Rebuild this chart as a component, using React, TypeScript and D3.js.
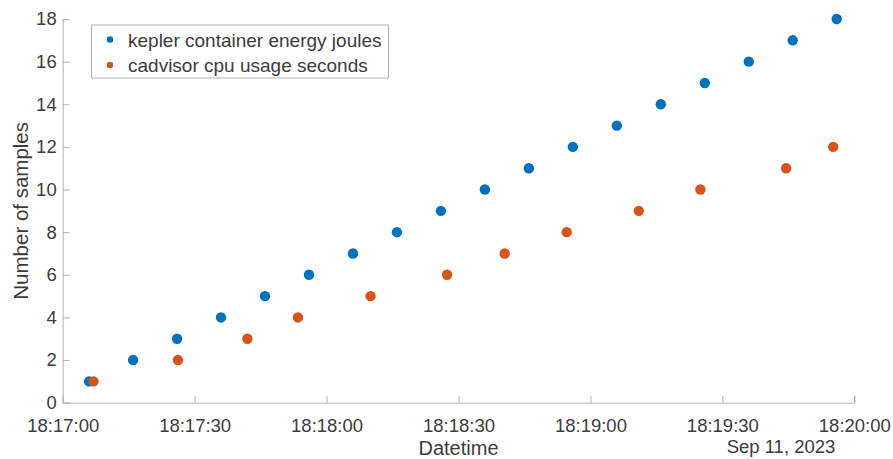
import React, { useEffect, useRef } from 'react';
import * as d3 from 'd3';

const DAY = '2023-09-11';

// kepler container energy joules samples
const keplerTimes = [
  '18:17:06', '18:17:16', '18:17:26', '18:17:36', '18:17:46', '18:17:56',
  '18:18:06', '18:18:16', '18:18:26', '18:18:36', '18:18:46', '18:18:56',
  '18:19:06', '18:19:16', '18:19:26', '18:19:36', '18:19:46', '18:19:56'
];
const keplerCounts = [1, 2, 3, 4, 5, 6, 7, 8, 9, 10, 11, 12, 13, 14, 15, 16, 17, 18];

// cadvisor cpu usage seconds samples
const cadvisorTimes = [
  '18:17:07', '18:17:26.2', '18:17:42', '18:17:53.5', '18:18:10', '18:18:27.4',
  '18:18:40.5', '18:18:54.6', '18:19:11', '18:19:25', '18:19:44.5', '18:19:55.2'
];
const cadvisorCounts = [1, 2, 3, 4, 5, 6, 7, 8, 9, 10, 11, 12];

const yTicks = [0, 2, 4, 6, 8, 10, 12, 14, 16, 18];
const xDomain = ['18:17:00', '18:20:00'];
const seriesNames = ['kepler container energy joules', 'cadvisor cpu usage seconds'];
const seriesColors = ['#0072BD', '#D95319'];

const parse = (t: string) => new Date(`${DAY}T${t}`);

const App: React.FC = () => {
  const svgRef = useRef<SVGSVGElement>(null);
  const width = 893;
  const height = 459;

  useEffect(() => {
    if (!svgRef.current) return;
    d3.select(svgRef.current).selectAll('*').remove();

    const margin = { top: 19, right: 38.7, bottom: 56.3, left: 62.7 };
    const innerWidth = width - margin.left - margin.right;
    const innerHeight = height - margin.top - margin.bottom;
    const font = '"Liberation Sans", Arial, sans-serif';
    const axisColor = '#b3b3b3';
    const textColor = '#3c3c3c';

    const svg = d3.select(svgRef.current);
    const g = svg.append('g').attr('transform', `translate(${margin.left},${margin.top})`);

    const x = d3.scaleTime().domain(xDomain.map(parse)).range([0, innerWidth]);
    const y = d3.scaleLinear().domain([0, 18]).range([innerHeight, 0]);

    // x axis (ticks inward, MATLAB style)
    const xAxis = g.append('g')
      .attr('transform', `translate(0,${innerHeight})`)
      .call(
        d3.axisBottom(x)
          .ticks(d3.timeSecond.every(30) as any)
          .tickFormat(d3.timeFormat('%H:%M:%S') as any)
          .tickSizeInner(-7)
          .tickSizeOuter(-7)
          .tickPadding(16)
      );
    xAxis.select('.domain').attr('stroke', axisColor);
    xAxis.selectAll('.tick line').attr('stroke', axisColor);
    xAxis.selectAll('.tick text')
      .attr('fill', textColor)
      .style('font-family', font)
      .style('font-size', '18.5px');

    // y axis
    const yAxis = g.append('g')
      .call(
        d3.axisLeft(y)
          .tickValues(yTicks)
          .tickSizeInner(-7)
          .tickSizeOuter(-7)
          .tickPadding(6)
      );
    yAxis.select('.domain').attr('stroke', axisColor);
    yAxis.selectAll('.tick line').attr('stroke', axisColor);
    yAxis.selectAll('.tick text')
      .attr('fill', textColor)
      .style('font-family', font)
      .style('font-size', '18.5px');

    // points
    const series = [
      { times: keplerTimes, counts: keplerCounts, color: seriesColors[0] },
      { times: cadvisorTimes, counts: cadvisorCounts, color: seriesColors[1] }
    ];
    series.forEach(s => {
      g.append('g')
        .selectAll('circle')
        .data(s.times.map((t, i) => ({ t: parse(t), v: s.counts[i] })))
        .enter().append('circle')
        .attr('cx', d => x(d.t))
        .attr('cy', d => y(d.v))
        .attr('r', 5.2)
        .attr('fill', s.color);
    });

    // axis labels
    svg.append('text')
      .attr('x', margin.left + innerWidth / 2)
      .attr('y', 455)
      .attr('text-anchor', 'middle')
      .attr('fill', textColor)
      .style('font-family', font)
      .style('font-size', '20px')
      .text('Datetime');

    svg.append('text')
      .attr('x', 781)
      .attr('y', 453)
      .attr('text-anchor', 'middle')
      .attr('fill', textColor)
      .style('font-family', font)
      .style('font-size', '18.5px')
      .text('Sep 11, 2023');

    svg.append('text')
      .attr('transform', `translate(28,${margin.top + innerHeight / 2}) rotate(-90)`)
      .attr('text-anchor', 'middle')
      .attr('fill', textColor)
      .style('font-family', font)
      .style('font-size', '20.5px')
      .text('Number of samples');

    // legend
    const legend = svg.append('g').attr('transform', 'translate(91.5,25)');
    legend.append('rect')
      .attr('width', 297)
      .attr('height', 53)
      .attr('fill', 'white')
      .attr('stroke', axisColor);
    seriesNames.forEach((name, i) => {
      legend.append('circle')
        .attr('cx', 18.5)
        .attr('cy', 14.5 + i * 25.5)
        .attr('r', 3.2)
        .attr('fill', seriesColors[i]);
      legend.append('text')
        .attr('x', 36.5)
        .attr('y', 21.5 + i * 25.5)
        .attr('fill', textColor)
        .style('font-family', font)
        .style('font-size', '19px')
        .text(name);
    });
  }, []);

  return (
    <svg
      ref={svgRef}
      width={width}
      height={height}
      style={{ position: 'absolute', left: 0, top: 0, background: 'white' }}
    />
  );
};

export default App;
